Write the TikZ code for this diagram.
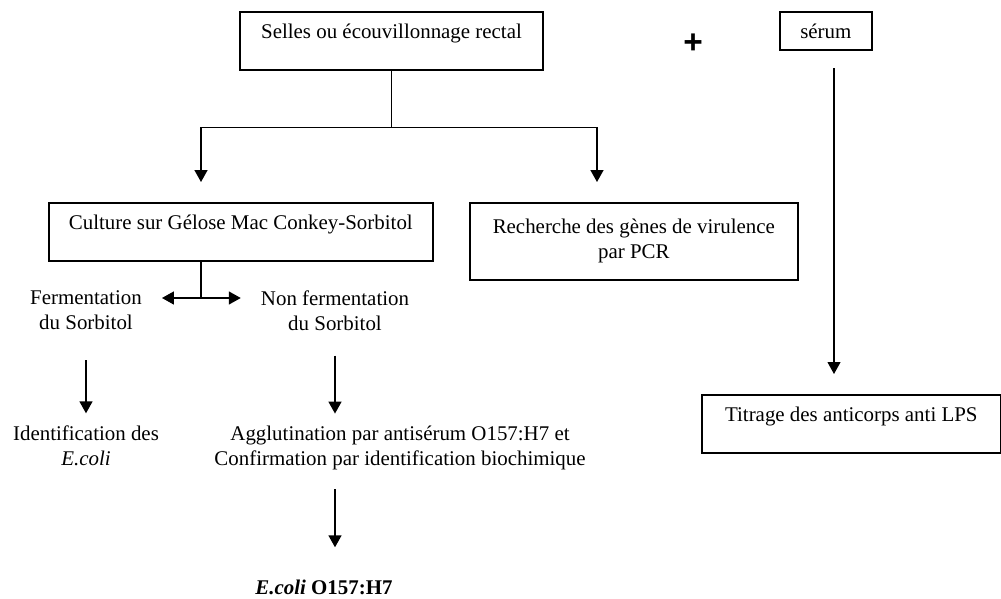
\documentclass[tikz,border=0pt]{standalone}
\usepackage{fontspec}
\setmainfont{Liberation Serif}
\newfontfamily\plusfont{Liberation Sans}
\usetikzlibrary{arrows.meta}

\begin{document}
\begin{tikzpicture}[
  >={Triangle[length=2.4mm,width=2.6mm]},
  box/.style={draw,line width=0.95pt,align=center},
  onel/.style={inner ysep=0pt,text height=0.54cm,text depth=0.62cm},
  link/.style={line width=0.9pt},
  every node/.style={font=\fontsize{11.9}{14.2}\selectfont}
]
\useasboundingbox (0,0) rectangle (20.02,-11.98);

% --- Boxes ---
\node[box,onel,minimum width=6.06cm,anchor=north] (sel) at (7.83,-0.22) {Selles ou écouvillonnage rectal};
\node[font=\plusfont\bfseries\fontsize{19}{19}\selectfont] (plus) at (13.86,-0.88) {+};
\node[box,inner ysep=0pt,text height=0.54cm,text depth=0.22cm,minimum width=1.84cm,anchor=north west] (ser) at (15.58,-0.22) {sérum};

\node[box,onel,minimum width=7.68cm,anchor=north west] (cult) at (0.96,-4.04) {Culture sur Gélose Mac Conkey-Sorbitol};
\node[box,minimum width=6.56cm,minimum height=1.54cm,anchor=north west] (pcr) at (9.38,-4.04) {Recherche des gènes de virulence\\par PCR};
\node[box,onel,minimum width=5.98cm,anchor=north west] (tit) at (14.02,-7.88) {Titrage des anticorps anti LPS};

% --- Texts ---
\node[align=center] (ferm) at (1.72,-6.21) {Fermentation\\du Sorbitol};
\node[align=center] (nonf) at (6.70,-6.21) {Non fermentation\\du Sorbitol};
\node[align=center] (ident) at (1.72,-8.91) {Identification des\\\textit{E.coli}};
\node[align=center] (agg) at (8.00,-8.955) {Agglutination par antisérum O157:H7 et\\Confirmation par identification biochimique};
\node[anchor=base] (eco) at (6.48,-11.88) {\textbf{\textit{E.coli} O157:H7}};

% --- Coordinates ---
\coordinate (jl) at (4.02,-3.64);
\coordinate (jr) at (11.94,-3.64);
\coordinate (cj) at (4.02,-5.96);
\coordinate (s0) at (16.68,-1.36);

% --- Arrows ---
% Selles -> culture / PCR
\draw[link] (sel.south) -- ++(0,-1.14) coordinate (jn);
\draw[link,->] (jn) -| (jl);
\draw[link,->] (jn) -| (jr);
% culture -> fermentation / non fermentation
\draw[link] (cult.south -| cj) -- (cj);
\draw[link,->,shorten >=0.28cm] (cj) -- (cj -| ferm.east);
\draw[link,->,shorten >=0.28cm] (cj) -- (cj -| nonf.west);
% fermentation -> identification
\draw[link,->,shorten <=0.48cm,shorten >=0.12cm] (ferm.south) -- (ferm.south |- ident.north);
% non fermentation -> agglutination -> E.coli O157:H7
\draw[link,->,shorten <=0.38cm,shorten >=0.12cm] (nonf.south) -- (nonf.south |- agg.north);
\draw[link,->,shorten <=0.27cm,shorten >=0.52cm] (nonf.south |- agg.south) -- (nonf.south |- eco.north);
% serum -> titrage
\draw[line width=0.6pt,->,shorten >=0.4cm] (s0) -- (s0 |- tit.north);

\end{tikzpicture}
\end{document}
